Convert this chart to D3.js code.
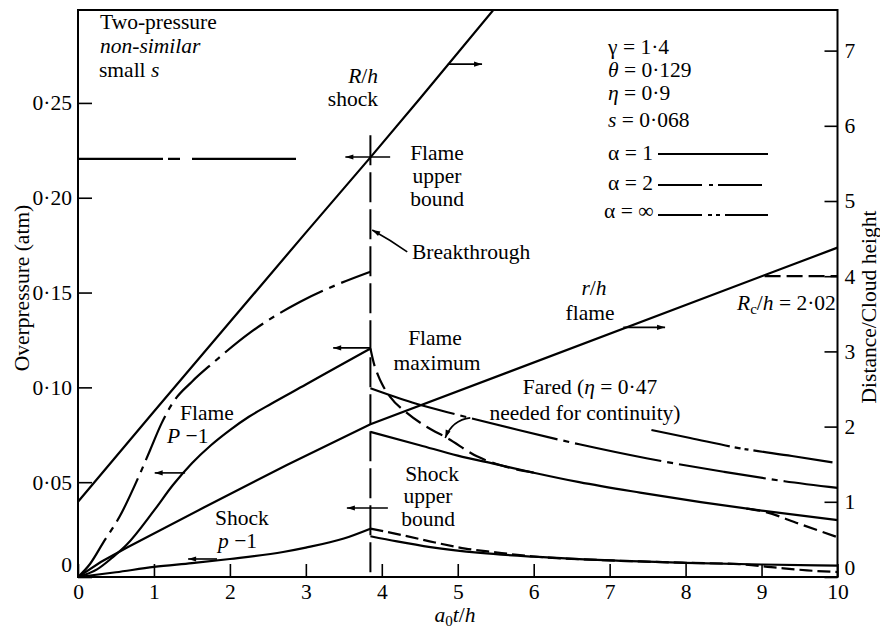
<!DOCTYPE html>
<html>
<head>
<meta charset="utf-8">
<script src="https://cdn.jsdelivr.net/npm/d3@7"></script>
<style>
body { margin: 0; background: #fff; }
svg text { font-family: "Liberation Serif", "Times New Roman", serif; fill: #000; }
</style>
</head>
<body>
<div id="chart"></div>
<script>
// tick values
const timeTicks = [0, 1, 2, 3, 4, 5, 6, 7, 8, 9, 10];
const pressureTicks = [0, 0.05, 0.10, 0.15, 0.20, 0.25];
const distanceTicks = [0, 1, 2, 3, 4, 5, 6, 7];

// breakthrough time
const tBreak = 3.85;

// distance / cloud height (right axis)
const shockRadius = [[0, 1.0], [1, 2.2], [2, 3.39], [3, 4.58], [3.85, 5.58], [4.5, 6.36], [5.6, 7.7]];
const flameRadius = [[0, 0], [0.3, 0.2], [0.64, 0.39], [1.65, 0.92], [2.75, 1.49], [3.85, 2.03], [10, 4.38]];
const cloudRadius = [[9.04, 4.0], [10, 4.0]];

// overpressure (left axis), before breakthrough
const flameUpper = [[0, 0.2205], [2.87, 0.2205]];
const flameA1Before = [[0, 0], [0.25, 0.004], [0.46, 0.0105], [0.64, 0.017], [1.0, 0.035], [1.25, 0.0485],
    [1.5, 0.06], [1.75, 0.0695], [2.0, 0.0775], [2.25, 0.0845], [2.55, 0.0915], [3.0, 0.1015], [3.4, 0.1105], [3.85, 0.1205]];
const flameA2Before = [[0, 0], [0.16, 0.007], [0.33, 0.018], [0.55, 0.032], [0.8, 0.053], [0.95, 0.067],
    [1.1, 0.081], [1.25, 0.092], [1.5, 0.103], [1.78, 0.113], [2.27, 0.129], [2.92, 0.145], [3.4, 0.154], [3.85, 0.161]];
const shockBefore = [[0, 0], [0.5, 0.0025], [1, 0.0053], [1.5, 0.0073], [2, 0.0095], [2.7, 0.0132],
    [3, 0.0155], [3.5, 0.0203], [3.85, 0.0255]];

// overpressure after breakthrough
const flameA1After = [[3.85, 0.0765], [4.5, 0.0695], [5.0, 0.064], [5.5, 0.0595], [6.0, 0.055], [6.6, 0.050],
    [7.4, 0.0445], [8.2, 0.0395], [9.0, 0.035], [10, 0.030]];
const flameA1Tail = [[8.8, 0.0361], [9.0, 0.0348], [9.5, 0.028], [10, 0.021]];
const flameFared = [[3.85, 0.1205], [3.9, 0.112], [3.95, 0.1065], [4.0, 0.102], [4.11, 0.095], [4.33, 0.0865],
    [4.6, 0.079], [4.86, 0.0733], [5.26, 0.0635], [5.6, 0.0585], [6.0, 0.055]];
const flameA2After = [[3.85, 0.0995], [4.4, 0.092], [5.0, 0.0855], [5.8, 0.0775], [6.6, 0.070], [7.5, 0.0625],
    [8.5, 0.0555], [9.3, 0.0505], [10, 0.047]];
const flameAInfAfter = [[7.55, 0.0775], [8.06, 0.0733], [8.7, 0.068], [9.4, 0.0638], [10, 0.060]];
const shockAfter = [[3.85, 0.0215], [4.2, 0.0188], [4.64, 0.0158], [5.3, 0.0127], [6, 0.0107], [6.6, 0.0094],
    [7.4, 0.0082], [8, 0.0075], [9, 0.0066], [10, 0.006]];
const shockFared = [[3.85, 0.0255], [4.3, 0.0218], [4.7, 0.0182], [5.1, 0.015], [5.5, 0.013], [6, 0.0108],
    [6.6, 0.0094], [7.4, 0.0082], [8, 0.0075], [8.7, 0.0068], [9.2, 0.0049], [9.6, 0.0035], [10, 0.0026]];

const width = 880, height = 628;
const fontSize = 21.5;

const svg = d3.select("#chart")
    .append("svg")
    .attr("width", width)
    .attr("height", height)
    .style("background", "#fff");

const x = d3.scaleLinear().domain([0, 10]).range([78, 837.5]);
const yL = d3.scaleLinear().domain([0, 0.299]).range([577, 10]);
const yR = d3.scaleLinear().domain([0, 7.54]).range([577, 10]);

svg.append("defs").append("clipPath").attr("id", "plot")
    .append("rect")
    .attr("x", x(0)).attr("y", yL(0.299))
    .attr("width", x(10) - x(0)).attr("height", yL(0) - yL(0.299));

svg.select("defs").append("marker")
    .attr("id", "head")
    .attr("viewBox", "0 -5 10 10")
    .attr("refX", 10).attr("refY", 0)
    .attr("markerUnits", "userSpaceOnUse")
    .attr("markerWidth", 10).attr("markerHeight", 8)
    .attr("orient", "auto")
    .append("path").attr("d", "M0,-3.2L10,0L0,3.2Z").attr("fill", "#000");

// axes, ticks pointing inward
const fmtP = d => d === 0 ? "0" : d3.format(".2f")(d).replace(".", "\u00b7");

function styleAxis(g) {
    g.select(".domain").remove();
    g.selectAll("line").attr("stroke-width", 1.6);
    g.attr("font-size", fontSize).attr("font-family", "Liberation Serif, serif");
}

svg.append("g")
    .attr("transform", `translate(0,${yL(0)})`)
    .call(d3.axisBottom(x).tickValues(timeTicks).tickSize(-13).tickPadding(7).tickSizeOuter(0))
    .call(styleAxis);

const leftAx = svg.append("g")
    .attr("transform", `translate(${x(0)},0)`)
    .call(d3.axisLeft(yL).tickValues(pressureTicks).tickFormat(fmtP).tickSize(-14).tickPadding(6).tickSizeOuter(0))
    .call(styleAxis);
leftAx.selectAll(".tick").filter(d => d === 0).select("text").attr("y", -12);

const rightAx = svg.append("g")
    .attr("transform", `translate(${x(10)},0)`)
    .call(d3.axisRight(yR).tickValues(distanceTicks).tickSize(-13).tickPadding(7).tickSizeOuter(0))
    .call(styleAxis);
rightAx.selectAll(".tick").filter(d => d === 0).select("text").attr("y", -9);

// frame
svg.append("rect")
    .attr("x", x(0)).attr("y", yL(0.299))
    .attr("width", x(10) - x(0)).attr("height", yL(0) - yL(0.299))
    .attr("fill", "none").attr("stroke", "#000").attr("stroke-width", 2);

// curves
const smooth = d3.curveMonotoneX;
const series = [
    {data: shockRadius, y: yR, dash: null, curve: d3.curveLinear},
    {data: flameRadius, y: yR, dash: null, curve: d3.curveLinear},
    {data: cloudRadius, y: yR, dash: "16,6", curve: d3.curveLinear},
    {data: flameUpper, y: yL, dash: "85,5,12,12,300", curve: d3.curveLinear},
    {data: flameA1Before, y: yL, dash: null, curve: smooth},
    {data: flameA2Before, y: yL, dash: "48,7,6,7", curve: smooth},
    {data: shockBefore, y: yL, dash: null, curve: smooth},
    {data: flameA1After, y: yL, dash: null, curve: smooth},
    {data: flameA1Tail, y: yL, dash: "14,6", curve: smooth},
    {data: flameFared, y: yL, dash: "18,7", curve: smooth},
    {data: flameA2After, y: yL, dash: "88,6,6,6", curve: smooth},
    {data: flameAInfAfter, y: yL, dash: "80,5,6,4,4,5", curve: smooth},
    {data: shockAfter, y: yL, dash: null, curve: smooth},
    {data: shockFared, y: yL, dash: "13,5", curve: smooth}
];

const plot = svg.append("g").attr("clip-path", "url(#plot)");

plot.selectAll("path.curve")
    .data(series)
    .join("path")
    .attr("class", "curve")
    .attr("fill", "none")
    .attr("stroke", "#000")
    .attr("stroke-width", 2.2)
    .attr("stroke-dasharray", d => d.dash)
    .attr("d", s => d3.line().x(d => x(d[0])).y(d => s.y(d[1])).curve(s.curve)(s.data));

// breakthrough line
plot.append("line")
    .attr("x1", x(tBreak)).attr("x2", x(tBreak))
    .attr("y1", yL(0.233)).attr("y2", yL(0))
    .attr("stroke", "#000").attr("stroke-width", 2)
    .attr("stroke-dasharray", "30,7");

// arrows
const arrows = [
    {y: yR, from: [4.87, 6.82], to: [5.32, 6.82]},
    {y: yL, from: [4.11, 0.2215], to: [3.52, 0.2215]},
    {y: yL, from: [3.85, 0.1208], to: [3.36, 0.1208]},
    {y: yL, from: [4.08, 0.0364], to: [3.54, 0.0364]},
    {y: yL, from: [1.41, 0.0549], to: [1.01, 0.0549]},
    {y: yL, from: [1.83, 0.0095], to: [1.45, 0.0095]},
    {y: yR, from: [7.18, 3.32], to: [7.73, 3.32]},
    {y: yL, from: [4.335, 0.1714], ctrl: [4.116, 0.1777], to: [3.874, 0.183]},
    {y: yL, from: [5.165, 0.0839], ctrl: [4.927, 0.0828], to: [4.835, 0.0733]}
];

svg.selectAll("path.arrow")
    .data(arrows)
    .join("path")
    .attr("class", "arrow")
    .attr("fill", "none")
    .attr("stroke", "#000")
    .attr("stroke-width", 1.6)
    .attr("marker-end", "url(#head)")
    .attr("d", a => {
        const p = d3.path();
        p.moveTo(x(a.from[0]), a.y(a.from[1]));
        if (a.ctrl) p.quadraticCurveTo(x(a.ctrl[0]), a.y(a.ctrl[1]), x(a.to[0]), a.y(a.to[1]));
        else p.lineTo(x(a.to[0]), a.y(a.to[1]));
        return p.toString();
    });

// text labels: parts are [text, style] with style "i" italic, "sub" subscript
function label(px, py, parts, anchor = "start") {
    const t = svg.append("text")
        .attr("x", px).attr("y", py)
        .attr("font-size", fontSize)
        .attr("text-anchor", anchor);
    parts.forEach(([s, st]) => {
        const sp = t.append("tspan").text(s);
        if (st === "i") sp.attr("font-style", "italic");
        if (st === "sub") sp.attr("font-size", fontSize * 0.7).attr("baseline-shift", "-25%");
    });
    return t;
}

label(100, 29, [["Two-pressure"]]);
label(100, 53, [["non-similar", "i"]]);
label(99, 77, [["small "], ["s", "i"]]);

label(378, 83, [["R", "i"], ["/"], ["h", "i"]], "end");
label(378, 106, [["shock"]], "end");

label(437, 160, [["Flame"]], "middle");
label(437, 183, [["upper"]], "middle");
label(437, 206, [["bound"]], "middle");

label(412, 259, [["Breakthrough"]]);

label(435, 345, [["Flame"]], "middle");
label(437, 370, [["maximum"]], "middle");

label(594, 295, [["r", "i"], ["/"], ["h", "i"]], "middle");
label(590, 320, [["flame"]], "middle");

label(737, 310, [["R", "i"], ["c", "sub"], ["/"], ["h", "i"], [" = 2\u00b702"]]);

label(590, 394, [["Fared ("], ["\u03b7", "i"], [" = 0\u00b747"]], "middle");
label(585, 420, [["needed for continuity)"]], "middle");

label(180, 420, [["Flame"]]);
label(167, 443, [["P", "i"], [" \u22121"]]);

label(215, 525, [["Shock"]]);
label(218, 548, [["p", "i"], [" \u22121"]]);

label(432, 481, [["Shock"]], "middle");
label(428, 503, [["upper"]], "middle");
label(428, 526, [["bound"]], "middle");

// parameters and line-style key
label(608, 54, [["\u03b3 = 1\u00b74"]]);
label(608, 77, [["\u03b8", "i"], [" = 0\u00b7129"]]);
label(608, 100, [["\u03b7", "i"], [" = 0\u00b79"]]);
label(608, 127, [["s", "i"], [" = 0\u00b7068"]]);

const keys = [
    {text: "\u03b1 = 1", dash: null, ty: 160, ly: 154, tx: 608},
    {text: "\u03b1 = 2", dash: "44,7,4,5", ty: 190, ly: 185, tx: 608},
    {text: "\u03b1 = \u221e", dash: "44,6,4,4,4,5", ty: 218, ly: 215, tx: 604}
];
keys.forEach(k => {
    label(k.tx, k.ty, [[k.text]]);
    svg.append("line")
        .attr("x1", 658).attr("x2", 768)
        .attr("y1", k.ly).attr("y2", k.ly)
        .attr("stroke", "#000").attr("stroke-width", 2)
        .attr("stroke-dasharray", k.dash);
});

// axis titles
label(0, 0, [["Overpressure (atm)"]], "middle").attr("transform", "translate(29,288) rotate(-90)");
label(0, 0, [["Distance/Cloud height"]], "middle").attr("transform", "translate(876,307) rotate(-90)");
label(455, 622, [["a", "i"], ["0", "sub"], ["t", "i"], ["/"], ["h", "i"]], "middle");
</script>
</body>
</html>
